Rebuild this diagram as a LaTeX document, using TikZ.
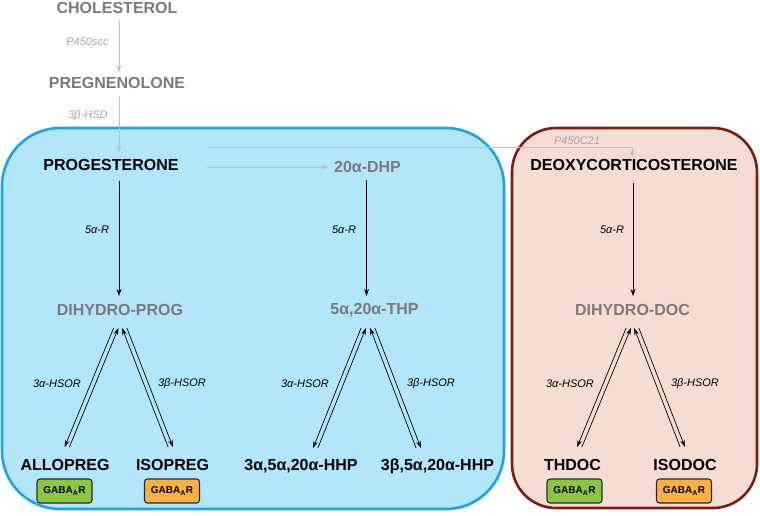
\documentclass[tikz,border=0pt]{standalone}
\usepackage{fontspec}
\setmainfont{Liberation Sans}
\usetikzlibrary{arrows.meta}
\definecolor{bluefill}{HTML}{B3E5FB}
\definecolor{bluedraw}{HTML}{1CA3E3}
\definecolor{brownfill}{HTML}{F6DDD4}
\definecolor{browndraw}{HTML}{7A1E12}
\definecolor{txtgray}{HTML}{7A7A7A}
\definecolor{lgray}{HTML}{BFBFBF}
\definecolor{labgray}{HTML}{A6A6A6}
\definecolor{gabagreen}{HTML}{8CC63F}
\definecolor{gabaorange}{HTML}{FBB040}
\definecolor{gababorder}{HTML}{1F2A40}
\tikzset{
  mol/.style={font=\fontsize{16}{19}\selectfont\bfseries, inner sep=1pt},
  molg/.style={mol, text=txtgray},
  enz/.style={font=\fontsize{11}{13}\selectfont\itshape, inner sep=1pt},
  enzg/.style={enz, text=labgray},
  gaba/.style={draw=gababorder, line width=1.1pt, rounded corners=3pt,
    font=\fontsize{10}{12}\selectfont\bfseries, minimum width=55pt, minimum height=24pt, inner sep=0pt},
  barr/.style={draw=black, line width=0.8pt, -{Stealth[length=7pt,width=5pt]}},
  garr/.style={draw=lgray, line width=1pt, -{Stealth[length=7pt,width=5pt]}},
  garrn/.style={draw=lgray, line width=1pt},
  darr/.style={draw=black, line width=0.7pt, -{Stealth[length=7pt,width=4.5pt]}}
}
\newcommand{\gabaR}{GABA\textsubscript{\fontsize{7}{8}\selectfont A}R}
\begin{document}
\begin{tikzpicture}[x=1pt,y=-1pt]
\useasboundingbox (0,0) rectangle (760,515);
% boxes
\draw[bluedraw, line width=2.6pt, fill=bluefill, rounded corners=58pt] (2,128) rectangle (504,509);
\draw[browndraw, line width=2.6pt, fill=brownfill, rounded corners=44pt] (512,128) rectangle (757,508);

% top molecules
\node[molg] (chol) at (117,8) {CHOLESTEROL};
\node[molg] (preg) at (117,83) {PREGNENOLONE};
\node[mol] (prog) at (111,165) {PROGESTERONE};
\node[molg] (dhp) at (367.5,167) {20α-DHP};
\node[mol] (doc) at (634,165) {DEOXYCORTICOSTERONE};

\coordinate (cholB) at (119,20);
\coordinate (pregT) at (119,72);
\coordinate (pregB) at (119,97);
\coordinate (progT) at (119,152);
\draw[garr] (cholB) -- (pregT);
\draw[garr] (pregB) -- (progT);
\node[enzg] (e1) at (87.5,42) {P450scc};
\node[enzg] (e2) at (88,116) {3β-HSD};

% progesterone -> 20a-DHP, and P450C21
\coordinate (progR) at (207,167);
\coordinate (dhpL) at (328,167);
\draw[garr] (progR) -- (dhpL);
\coordinate (progR2) at (207,147);
\coordinate (docC) at (632,147);
\coordinate (docT) at (632,157);
\draw[garrn] (progR2) -- (docC);
\draw[garr] (docC) -- (docT);
\node[enzg] (e3) at (577,141) {P450C21};

% 5a-R
\node[molg] (dp) at (120,310) {DIHYDRO-PROG};
\node[molg] (thp) at (374.5,310) {5α,20α-THP};
\node[molg] (dd) at (632.5,310) {DIHYDRO-DOC};

\coordinate (progB) at (119,181);
\coordinate (dpT) at (119,296);
\coordinate (dhpB) at (366.5,180);
\coordinate (thpT) at (366.5,296);
\coordinate (docB) at (633,183);
\coordinate (ddT) at (633,296);
\draw[barr] (progB) -- (dpT);
\draw[barr] (dhpB) -- (thpT);
\draw[barr] (docB) -- (ddT);
\node[enz] (r1) at (97,230) {5α-R};
\node[enz] (r2) at (344,230) {5α-R};
\node[enz] (r3) at (612,230) {5α-R};

% bottom molecules
\node[mol] (allo) at (65,465) {ALLOPREG};
\node[mol] (iso) at (172.5,465) {ISOPREG};
\node[mol] (hhpa) at (301,466) {3α,5α,20α-HHP};
\node[mol] (hhpb) at (437.5,466) {3β,5α,20α-HHP};
\node[mol] (thdoc) at (572.5,465) {THDOC};
\node[mol] (isodoc) at (685,465) {ISODOC};

\node[gaba, fill=gabagreen] (g1) at (64.5,491) {\gabaR};
\node[gaba, fill=gabaorange] (g2) at (172,491) {\gabaR};
\node[gaba, fill=gabagreen] (g3) at (574.5,491) {\gabaR};
\node[gaba, fill=gabaorange] (g4) at (684,491) {\gabaR};

% double arrows: DIHYDRO-PROG
\coordinate (dpA) at (116,328);
\coordinate (dpB) at (124.5,328);
\coordinate (alloT) at (67,447);
\coordinate (isoT) at (170.5,447);
\draw[darr] ([xshift=-2.4pt]dpA) -- ([xshift=-2.4pt]alloT);
\draw[darr] ([xshift=2.4pt]alloT) -- ([xshift=2.4pt]dpA);
\draw[darr] ([xshift=-2.4pt]isoT) -- ([xshift=-2.4pt]dpB);
\draw[darr] ([xshift=2.4pt]dpB) -- ([xshift=2.4pt]isoT);
\node[enz] (h1) at (57,384) {3α-HSOR};
\node[enz] (h2) at (182,384) {3β-HSOR};

% double arrows: THP
\coordinate (thpA) at (363.5,328);
\coordinate (thpB) at (372.5,328);
\coordinate (hhpaT) at (315.5,448);
\coordinate (hhpbT) at (418.5,448);
\draw[darr] ([xshift=-2.4pt]thpA) -- ([xshift=-2.4pt]hhpaT);
\draw[darr] ([xshift=2.4pt]hhpaT) -- ([xshift=2.4pt]thpA);
\draw[darr] ([xshift=-2.4pt]hhpbT) -- ([xshift=-2.4pt]thpB);
\draw[darr] ([xshift=2.4pt]thpB) -- ([xshift=2.4pt]hhpbT);
\node[enz] (h3) at (305,384) {3α-HSOR};
\node[enz] (h4) at (431,384) {3β-HSOR};

% double arrows: DIHYDRO-DOC
\coordinate (ddA) at (628.5,328);
\coordinate (ddB) at (636.5,328);
\coordinate (thdocT) at (579.5,447);
\coordinate (isodocT) at (682.5,447);
\draw[darr] ([xshift=-2.4pt]ddA) -- ([xshift=-2.4pt]thdocT);
\draw[darr] ([xshift=2.4pt]thdocT) -- ([xshift=2.4pt]ddA);
\draw[darr] ([xshift=-2.4pt]isodocT) -- ([xshift=-2.4pt]ddB);
\draw[darr] ([xshift=2.4pt]ddB) -- ([xshift=2.4pt]isodocT);
\node[enz] (h5) at (570,384) {3α-HSOR};
\node[enz] (h6) at (695,384) {3β-HSOR};
\end{tikzpicture}
\end{document}
